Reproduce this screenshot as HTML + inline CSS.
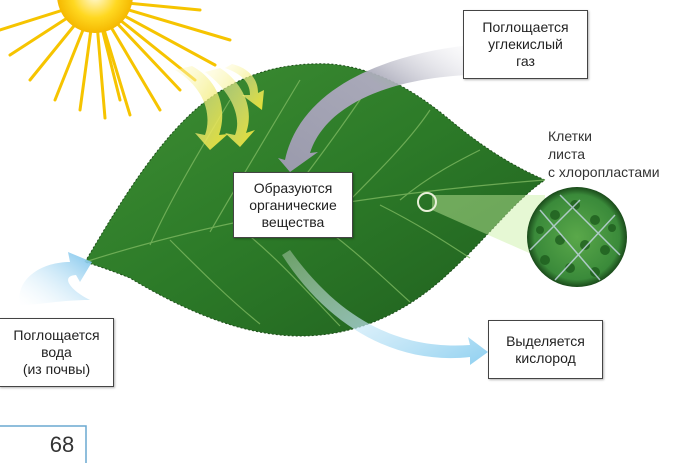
<!DOCTYPE html>
<html><head><meta charset="utf-8"><style>
body{margin:0;background:#fff;width:700px;height:463px;overflow:hidden;position:relative;font-family:"Liberation Sans",sans-serif;}
.box{position:absolute;background:#fff;border:1px solid #444;text-align:center;font-size:14px;line-height:17px;color:#222;box-shadow:1px 1px 2px rgba(0,0,0,.3);display:flex;align-items:center;justify-content:center;}
</style></head><body>
<svg width="700" height="463" style="position:absolute;left:0;top:0">
<defs>
<radialGradient id="sun" cx="0.5" cy="0.5" r="0.5"><stop offset="0" stop-color="#fffbe0"/><stop offset="0.6" stop-color="#ffd820"/><stop offset="1" stop-color="#f5b800"/></radialGradient>
<linearGradient id="leaf" x1="0" y1="0" x2="1" y2="1"><stop offset="0" stop-color="#3f8f34"/><stop offset="0.5" stop-color="#2c7a28"/><stop offset="1" stop-color="#1f5e1e"/></linearGradient>
<linearGradient id="blue" x1="0" y1="1" x2="1" y2="0"><stop offset="0" stop-color="#ffffff" stop-opacity="0.2"/><stop offset="1" stop-color="#7cc4ec"/></linearGradient>
<linearGradient id="blue2" x1="0" y1="0" x2="1" y2="1"><stop offset="0" stop-color="#ffffff" stop-opacity="0.3"/><stop offset="1" stop-color="#8fd0f0"/></linearGradient>
<linearGradient id="gray" x1="1" y1="0" x2="0" y2="1"><stop offset="0" stop-color="#f0f0f4" stop-opacity="0.2"/><stop offset="0.4" stop-color="#a8a8b8"/><stop offset="1" stop-color="#9a9aac"/></linearGradient>
<linearGradient id="yel" x1="0" y1="0" x2="1" y2="1"><stop offset="0" stop-color="#fffbd0" stop-opacity="0.4"/><stop offset="1" stop-color="#e8e030"/></linearGradient>
<radialGradient id="cell" cx="0.5" cy="0.5" r="0.5"><stop offset="0" stop-color="#5aa84a"/><stop offset="0.85" stop-color="#3a8a3a"/><stop offset="1" stop-color="#1a4a1a"/></radialGradient>
</defs>
<g stroke="#f6c400" stroke-width="3" stroke-linecap="round">
<line x1="95" y1="0" x2="230" y2="40"/><line x1="95" y1="0" x2="215" y2="65"/><line x1="95" y1="0" x2="180" y2="90"/><line x1="95" y1="0" x2="160" y2="110"/><line x1="95" y1="0" x2="130" y2="115"/><line x1="95" y1="0" x2="105" y2="118"/><line x1="95" y1="0" x2="80" y2="110"/><line x1="95" y1="0" x2="55" y2="100"/><line x1="95" y1="0" x2="30" y2="80"/><line x1="95" y1="0" x2="10" y2="55"/><line x1="95" y1="0" x2="0" y2="30"/><line x1="95" y1="0" x2="200" y2="10"/><line x1="95" y1="0" x2="120" y2="100"/><line x1="95" y1="0" x2="195" y2="80"/>
</g>
<circle cx="95" cy="-5" r="38" fill="url(#sun)"/>
<path d="M85,262 C110,220 150,150 195,110 C235,75 280,62 330,64 C380,68 420,95 450,120 C480,145 510,165 545,180 C515,200 490,235 450,272 C410,310 360,336 300,336 C240,336 180,308 130,278 C110,270 95,265 85,262 Z" fill="url(#leaf)" stroke="#1e4e1a" stroke-width="1" stroke-dasharray="2 2"/>
<g stroke="#7db860" stroke-width="1.2" fill="none" opacity="0.8">
<path d="M85,262 C200,225 350,195 545,180"/>
<path d="M150,245 C170,200 200,150 230,100"/><path d="M210,232 C240,180 270,130 300,80"/><path d="M270,222 C310,170 340,130 370,85"/><path d="M340,210 C380,170 410,140 430,110"/><path d="M400,200 C430,175 460,160 480,150"/>
<path d="M170,240 C200,270 230,300 260,324"/><path d="M240,228 C280,260 310,295 340,326"/><path d="M310,218 C350,245 380,275 410,302"/><path d="M380,205 C420,225 450,245 470,258"/>
</g>
<path d="M175,70 C205,88 212,115 205,135 L195,133 L210,150 L228,134 L219,135 C228,108 218,80 192,66 Z" fill="url(#yel)"/>
<path d="M205,72 C232,92 242,118 235,135 L225,133 L240,147 L255,130 L246,133 C255,108 242,82 220,68 Z" fill="url(#yel)"/>
<path d="M225,68 C245,75 250,85 250,95 L242,95 L262,110 L264,90 L258,93 C258,78 248,68 232,64 Z" fill="url(#yel)"/>
<path d="M470,45 C380,55 300,90 285,160 L278,158 L290,172 L318,152 L310,153 C325,105 390,78 470,75 Z" fill="url(#gray)"/>
<path d="M20,305 C15,280 40,262 70,262 L68,252 L92,262 L80,282 L76,275 C60,276 70,290 90,300 C60,300 40,305 20,305 Z" fill="url(#blue)"/>
<path d="M290,250 C340,320 400,350 470,345 L468,337 L488,352 L470,365 L470,357 C400,365 330,330 282,255 Z" fill="url(#blue2)"/>
<path d="M432,195 L545,195 L545,260 L432,210 Z" fill="#c8f0a0" opacity="0.45"/>
<circle cx="427" cy="202" r="9" fill="none" stroke="#e8f0d8" stroke-width="2"/>
<circle cx="577" cy="237" r="50" fill="url(#cell)"/>
<g fill="#1e5e1e" opacity="0.8">
<circle cx="555" cy="215" r="5"/><circle cx="575" cy="205" r="5"/><circle cx="595" cy="220" r="5"/><circle cx="560" cy="240" r="5"/><circle cx="585" cy="245" r="5"/><circle cx="605" cy="250" r="5"/><circle cx="545" cy="260" r="5"/><circle cx="570" cy="268" r="5"/><circle cx="595" cy="272" r="5"/><circle cx="540" cy="230" r="4"/><circle cx="612" cy="228" r="4"/>
</g>
<g stroke="#c8d8e8" stroke-width="1.5" fill="none" opacity="0.8">
<path d="M540,210 L600,280"/><path d="M560,195 L620,255"/><path d="M530,250 L580,200"/><path d="M555,280 L615,215"/>
</g>
<path d="M0,426 H86 V463" fill="none" stroke="#6aa8d0" stroke-width="1.5"/>
<text x="62" y="452" font-size="22" fill="#333" text-anchor="middle" font-family="Liberation Sans">68</text>
</svg>
<div class="box" style="left:463px;top:10px;width:123px;height:67px;">Поглощается<br>углекислый<br>газ</div>
<div class="box" style="left:233px;top:172px;width:118px;height:64px;">Образуются<br>органические<br>вещества</div>
<div class="box" style="left:-1px;top:318px;width:113px;height:67px;">Поглощается<br>вода<br>(из почвы)</div>
<div class="box" style="left:488px;top:320px;width:113px;height:57px;">Выделяется<br>кислород</div>
<div style="position:absolute;left:548px;top:127px;font-size:14px;line-height:18px;color:#333;">Клетки<br>листа<br>с хлоропластами</div>
</body></html>
